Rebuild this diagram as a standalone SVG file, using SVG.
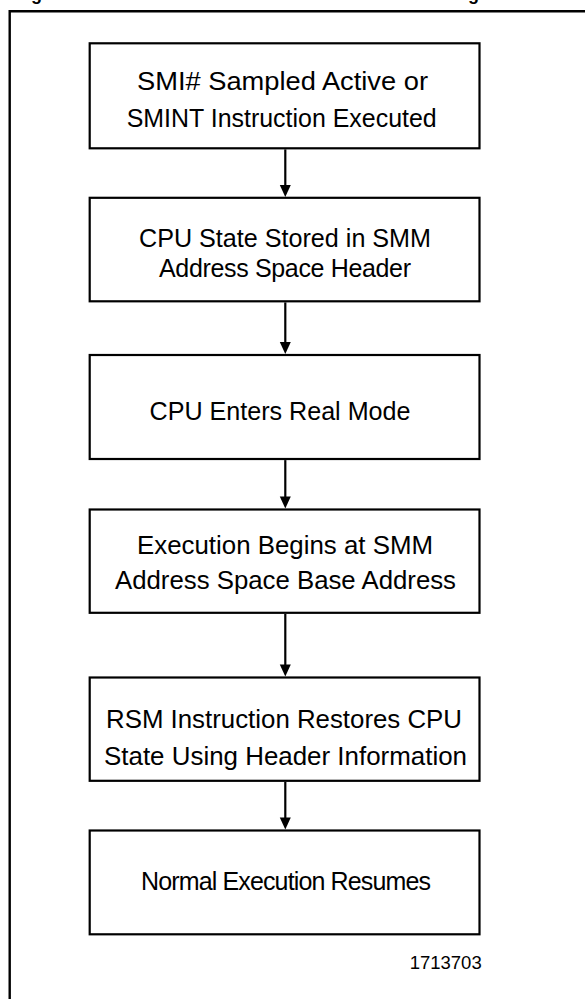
<svg xmlns="http://www.w3.org/2000/svg" width="585" height="999" viewBox="0 0 585 999">
<style>
.box{fill:#fff;stroke:#000;stroke-width:2.2}
.lbl{font-family:"Liberation Sans",Arial,sans-serif;font-size:25px;fill:#000;text-anchor:middle}
.con{stroke:#000;stroke-width:2.2;fill:none}
.head{fill:#000}
.ttl{font-family:"Liberation Sans",Arial,sans-serif;font-size:18px;font-weight:bold;fill:#000}
</style>
<rect width="585" height="999" fill="#fff"/>
<text class="ttl" x="31" y="0">g</text>
<text class="ttl" x="468" y="0">g</text>
<path d="M9.7,1010 V11.2 H600" fill="none" stroke="#000" stroke-width="2.4"/>
<g id="n1"><rect class="box" x="89.7" y="43.3" width="389.8" height="105"/>
<text class="lbl" x="282.5" y="90" textLength="291" lengthAdjust="spacingAndGlyphs">SMI# Sampled Active or</text>
<text class="lbl" x="281.7" y="127.3" textLength="310" lengthAdjust="spacingAndGlyphs">SMINT Instruction Executed</text></g>
<g id="n2"><rect class="box" x="89.7" y="197.8" width="389.8" height="103.5"/>
<text class="lbl" x="285" y="246.5" textLength="292" lengthAdjust="spacingAndGlyphs">CPU State Stored in SMM</text>
<text class="lbl" x="285" y="276.8" textLength="252" lengthAdjust="spacing">Address Space Header</text></g>
<g id="n3"><rect class="box" x="89.7" y="355" width="389.8" height="104"/>
<text class="lbl" x="280" y="420" textLength="261" lengthAdjust="spacingAndGlyphs">CPU Enters Real Mode</text></g>
<g id="n4"><rect class="box" x="89.7" y="509.5" width="389.8" height="103.3"/>
<text class="lbl" x="285" y="554" textLength="296" lengthAdjust="spacingAndGlyphs">Execution Begins at SMM</text>
<text class="lbl" x="285.5" y="589" textLength="341" lengthAdjust="spacingAndGlyphs">Address Space Base Address</text></g>
<g id="n5"><rect class="box" x="89.7" y="677.5" width="389.8" height="103.3"/>
<text class="lbl" x="284" y="728" textLength="356" lengthAdjust="spacingAndGlyphs">RSM Instruction Restores CPU</text>
<text class="lbl" x="285.5" y="765" textLength="363" lengthAdjust="spacingAndGlyphs">State Using Header Information</text></g>
<g id="n6"><rect class="box" x="89.7" y="830.5" width="389.8" height="103.8"/>
<text class="lbl" x="286" y="890" textLength="290" lengthAdjust="spacing">Normal Execution Resumes</text></g>
<text id="fignum" x="481.7" y="969" font-family="'Liberation Sans',Arial,sans-serif" font-size="18.5" text-anchor="end">1713703</text>
<g id="connectors">
<path class="con" d="M285.3,149.4 V186"/><polygon class="head" points="279.8,185 290.8,185 285.3,197"/>
<path class="con" d="M285.3,302.4 V343"/><polygon class="head" points="279.8,342 290.8,342 285.3,354"/>
<path class="con" d="M285.3,460.1 V497"/><polygon class="head" points="279.8,496.5 290.8,496.5 285.3,508.5"/>
<path class="con" d="M285.3,613.9 V665"/><polygon class="head" points="279.8,664.5 290.8,664.5 285.3,676.5"/>
<path class="con" d="M285.3,781.9 V818"/><polygon class="head" points="279.8,817.5 290.8,817.5 285.3,829.5"/>
</g>
</svg>
